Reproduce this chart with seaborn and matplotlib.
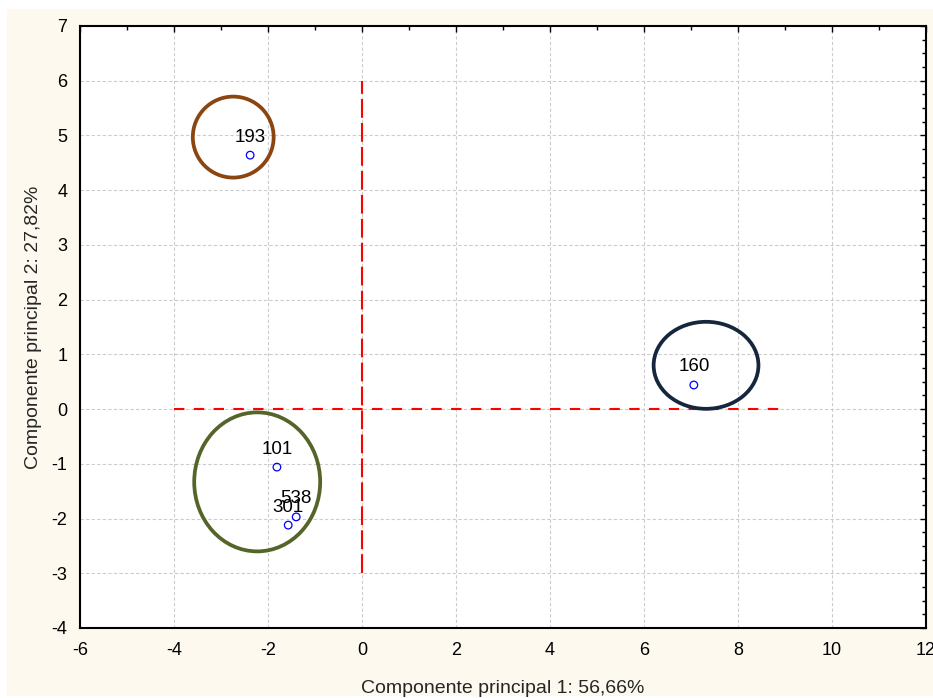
"""
PCA biplot of samples: principal component scores with group ellipses.
"""

import matplotlib
matplotlib.use("Agg")
import matplotlib.pyplot as plt
from matplotlib.patches import Ellipse, Rectangle
from matplotlib.ticker import MultipleLocator
import pandas as pd
import seaborn as sns

# sample scores on the first two components
sample_ids = ["193", "160", "101", "538", "301"]
pc1_scores = [-2.38, 7.06, -1.81, -1.40, -1.57]
pc2_scores = [4.64, 0.44, -1.06, -1.97, -2.12]

# group ellipses (centre x, centre y, width, height) in data units
ellipse_cx = [-2.74, 7.32, -2.23]
ellipse_cy = [4.97, 0.80, -1.33]
ellipse_w = [1.72, 2.23, 2.68]
ellipse_h = [1.48, 1.59, 2.54]
ellipse_colors = ["#8b4510", "#15263d", "#556428"]

# reference axes drawn through the origin
hline_x = [-4, 9]
vline_y = [-3, 6]

x_label = "Componente principal 1: 56,66%"
y_label = "Componente principal 2: 27,82%"

df = pd.DataFrame({"id": sample_ids, "pc1": pc1_scores, "pc2": pc2_scores})

sns.set_style("white")
plt.rcParams["font.family"] = ["Liberation Sans", "DejaVu Sans"]
plt.rcParams["axes.unicode_minus"] = False

fig = plt.figure(figsize=(9.33, 6.98), dpi=100)
fig.patch.set_facecolor("white")
# cream panel behind the plot
fig.patches.append(Rectangle((7 / 933, 2 / 698), 1, 687 / 698,
                             transform=fig.transFigure, facecolor="#fdf9ef",
                             edgecolor="none", zorder=-10))

ax = fig.add_axes([80 / 933, 70 / 698, 846 / 933, 602 / 698])
ax.set_facecolor("white")

# dashed red reference lines
ax.plot(hline_x, [0, 0], color="#ff0000", lw=1.5, dashes=(5, 4.5), zorder=2)
ax.plot([0, 0], vline_y, color="#ff0000", lw=1.5, dashes=(9, 2.5), zorder=2)

for cx, cy, w, h, c in zip(ellipse_cx, ellipse_cy, ellipse_w, ellipse_h, ellipse_colors):
    ax.add_patch(Ellipse((cx, cy), w, h, fill=False, edgecolor=c, lw=2.7, zorder=3))

sns.scatterplot(data=df, x="pc1", y="pc2", ax=ax, marker="o", s=30,
                facecolor="none", edgecolor="#0000ff", linewidth=0.9, zorder=4)

for _, row in df.iterrows():
    ax.annotate(row["id"], (row["pc1"], row["pc2"]), xytext=(0, 13),
                textcoords="offset points", ha="center", va="center",
                fontsize=13.5, color="black", zorder=5)

ax.set_xlim(-6, 12)
ax.set_ylim(-4, 7)
ax.xaxis.set_major_locator(MultipleLocator(2))
ax.xaxis.set_minor_locator(MultipleLocator(1))
ax.yaxis.set_major_locator(MultipleLocator(1))
ax.yaxis.set_minor_locator(MultipleLocator(0.25))

ax.grid(True, which="major", color="#cccccc", lw=0.8, dashes=(3, 2))
ax.set_axisbelow(True)

ax.tick_params(which="both", direction="in", top=True, right=True,
               labelsize=13, colors="black")
ax.tick_params(which="major", length=4, width=1)
ax.tick_params(which="minor", length=3, width=1)
ax.tick_params(axis="x", which="major", pad=10)
ax.tick_params(axis="y", which="major", pad=9)

for s in ax.spines.values():
    s.set_color("black")
    s.set_linewidth(1.5)

ax.set_xlabel(x_label, fontsize=14, labelpad=15)
ax.set_ylabel(y_label, fontsize=14, labelpad=7)

fig.savefig("out.png", dpi=100, facecolor=fig.get_facecolor())
